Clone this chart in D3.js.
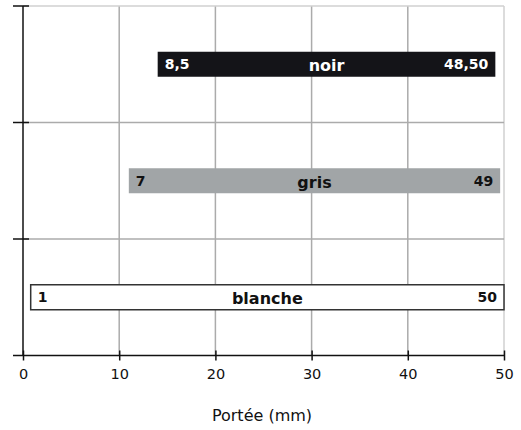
<!DOCTYPE html>
<html lang="fr">
<head>
    <meta charset="UTF-8">
    <title>Portée (mm)</title>
    <script src="https://d3js.org/d3.v7.min.js"></script>
    <style>
        body { margin: 0; background: #fff; }
        svg { display: block; }
        text { font-family: "DejaVu Sans", sans-serif; }
    </style>
</head>
<body>
    <script>
        // Chart data
        const categories = ["noir", "gris", "blanche"];
        const barStart = [14, 11, 0.8];
        const barEnd = [49.1, 49.6, 50];
        const lowLabels = ["8,5", "7", "1"];
        const highLabels = ["48,50", "49", "50"];
        const xTicks = [0, 10, 20, 30, 40, 50];
        const axisTitle = "Portée (mm)";

        const width = 521;
        const height = 430;
        const svg = d3.select("body").append("svg")
            .attr("width", width)
            .attr("height", height);

        const x = d3.scaleLinear().domain([0, 50]).range([23, 504]);
        const y = d3.scaleBand().domain(categories).range([6, 355.5]);
        const barH = 25;

        // grid lines
        const grid = svg.append("g");
        grid.selectAll("line.v")
            .data(xTicks.slice(1))
            .enter().append("line")
            .attr("x1", d => x(d)).attr("x2", d => x(d))
            .attr("y1", y.range()[0]).attr("y2", y.range()[1])
            .attr("stroke", d => d === 50 ? "#d0d0d0" : "#ababab")
            .attr("stroke-width", 1.5);
        grid.selectAll("line.h")
            .data(categories)
            .enter().append("line")
            .attr("x1", x(0)).attr("x2", x(50))
            .attr("y1", d => y(d)).attr("y2", d => y(d))
            .attr("stroke", (d, i) => i === 0 ? "#d0d0d0" : "#ababab")
            .attr("stroke-width", 1.5);

        // bars
        const fills = { noir: "#141418", gris: "#a1a5a7", blanche: "#ffffff" };
        const bars = svg.append("g").selectAll("g")
            .data(categories)
            .enter().append("g")
            .attr("transform", d => `translate(0,${y(d) + y.bandwidth() / 2})`);

        bars.append("rect")
            .attr("x", (d, i) => x(barStart[i]))
            .attr("y", -barH / 2)
            .attr("width", (d, i) => x(barEnd[i]) - x(barStart[i]))
            .attr("height", barH)
            .attr("fill", d => fills[d])
            .attr("stroke", d => d === "blanche" ? "#333" : "none")
            .attr("stroke-width", 1.5);

        const txtColor = d => d === "noir" ? "#fff" : "#111";

        bars.append("text")
            .attr("x", (d, i) => x(barStart[i]) + 7)
            .attr("dy", "0.36em")
            .attr("font-size", 14)
            .attr("font-weight", "bold")
            .attr("fill", txtColor)
            .text((d, i) => lowLabels[i]);

        bars.append("text")
            .attr("x", (d, i) => x(barEnd[i]) - 7)
            .attr("dy", "0.36em")
            .attr("text-anchor", "end")
            .attr("font-size", 14)
            .attr("font-weight", "bold")
            .attr("fill", txtColor)
            .text((d, i) => highLabels[i]);

        bars.append("text")
            .attr("x", (d, i) => (x(barStart[i]) + x(barEnd[i])) / 2)
            .attr("dy", "0.45em")
            .attr("text-anchor", "middle")
            .attr("font-size", 16)
            .attr("font-weight", "bold")
            .attr("fill", txtColor)
            .text(d => d);

        // y axis with crossing ticks
        const yAxis = svg.append("g");
        yAxis.append("line")
            .attr("x1", x(0)).attr("x2", x(0))
            .attr("y1", y.range()[0]).attr("y2", y.range()[1])
            .attr("stroke", "#111").attr("stroke-width", 1.5);
        yAxis.selectAll("line.t")
            .data(categories)
            .enter().append("line")
            .attr("x1", x(0) - 10).attr("x2", x(0) + 6)
            .attr("y1", d => y(d)).attr("y2", d => y(d))
            .attr("stroke", "#111").attr("stroke-width", 1.5);

        // x axis
        const xAxis = svg.append("g")
            .attr("transform", `translate(0,${y.range()[1]})`)
            .call(d3.axisBottom(x).tickValues(xTicks).tickSize(5).tickPadding(8));
        xAxis.select(".domain").remove();
        xAxis.append("line")
            .attr("x1", x(0) - 10).attr("x2", x(50))
            .attr("stroke", "#111").attr("stroke-width", 1.5);
        xAxis.selectAll(".tick line")
            .attr("y1", -5).attr("y2", 5)
            .attr("stroke", "#111").attr("stroke-width", 1.5);
        xAxis.selectAll(".tick text")
            .attr("font-family", "DejaVu Sans")
            .attr("font-size", 14.5)
            .attr("fill", "#111");

        svg.append("text")
            .attr("x", 262)
            .attr("y", 421)
            .attr("text-anchor", "middle")
            .attr("font-size", 16)
            .attr("fill", "#111")
            .text(axisTitle);
    </script>
</body>
</html>
